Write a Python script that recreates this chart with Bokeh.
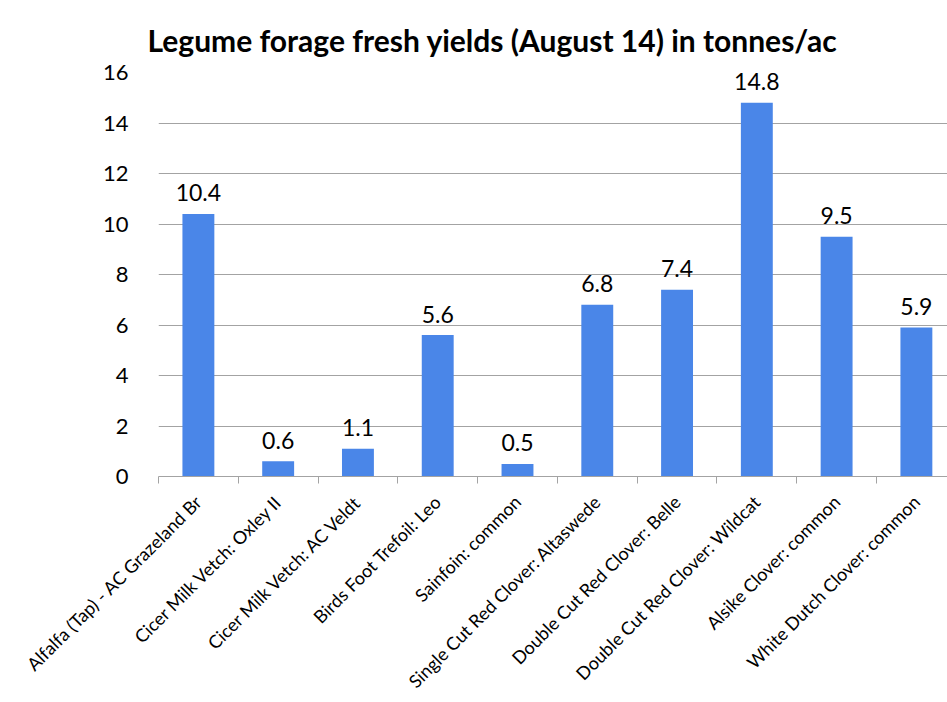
import math
from bokeh.plotting import figure
from bokeh.models import Range1d, LinearAxis, FixedTicker, ColumnDataSource, Title, Grid
from bokeh.core.properties import value
from bokeh.embed import file_html
from bokeh.resources import INLINE

categories = [
    "Alfalfa (Tap) - AC Grazeland Br",
    "Cicer Milk Vetch: Oxley II",
    "Cicer Milk Vetch: AC Veldt",
    "Birds Foot Trefoil: Leo",
    "Sainfoin: common",
    "Single Cut Red Clover: Altaswede",
    "Double Cut Red Clover: Belle",
    "Double Cut Red Clover: Wildcat",
    "Alsike Clover: common",
    "White Dutch Clover: common",
]
yields = [10.4, 0.6, 1.1, 5.6, 0.5, 6.8, 7.4, 14.8, 9.5, 5.9]
y_ticks = [0, 2, 4, 6, 8, 10, 12, 14, 16]
title_text = "Legume forage fresh yields (August 14) in tonnes/ac"

FONT = "Lato"
BLUE = "#4a86e8"
GRID = "#a3a3a3"

n = len(categories)
centers = [i + 0.5 for i in range(n)]
bounds = [float(i) for i in range(n + 1)]
labels = [f"{v:.1f}" for v in yields]

src = ColumnDataSource(dict(x=centers, y=yields, label=labels, name=categories))

p = figure(width=947, height=702, output_backend="svg", toolbar_location=None,
           x_range=Range1d(0, 9.89), y_range=Range1d(0, 16),
           x_axis_type=None, y_axis_type=None,
           min_border_left=158, min_border_right=0, min_border_top=72, min_border_bottom=0)
p.outline_line_color = None
p.background_fill_color = "white"
p.border_fill_color = "white"

p.title = Title(text=title_text, text_font=FONT, text_font_size="30px",
                text_font_style="bold", text_color="black", align="left", offset=-11,
                vertical_align="top", padding=0, standoff=26)

# y axis
yax = LinearAxis(ticker=FixedTicker(ticks=y_ticks))
yax.axis_line_color = None
yax.major_tick_line_color = None
yax.minor_tick_line_color = None
yax.major_label_text_font = FONT
yax.major_label_text_font_size = "22px"
yax.major_label_text_color = "black"
yax.major_label_standoff = 24
p.add_layout(yax, "left")

# x axis
xax = LinearAxis(ticker=FixedTicker(ticks=centers, minor_ticks=bounds))
xax.major_label_overrides = {c: name for c, name in zip(centers, categories)}
xax.axis_line_color = GRID
xax.axis_line_width = 1
xax.major_tick_line_color = None
xax.minor_tick_line_color = GRID
xax.minor_tick_out = 7
xax.minor_tick_in = 0
xax.major_label_orientation = math.pi / 4
xax.major_label_text_font = FONT
xax.major_label_text_font_size = "18px"
xax.major_label_text_color = "black"
xax.major_label_standoff = 15
p.add_layout(xax, "below")

# gridlines
g = Grid(dimension=1, ticker=FixedTicker(ticks=y_ticks[1:]))
g.grid_line_color = GRID
g.grid_line_width = 1
p.add_layout(g)

p.vbar(x="x", top="y", width=0.4, bottom=0, source=src, fill_color=BLUE, line_color=None)
p.text(x="x", y="y", text="label", source=src, text_align="center", text_baseline="alphabetic",
       y_offset=-21, text_font=value(FONT), text_font_size="23px", text_color="black")

open("out.html", "w").write(file_html(p, INLINE))
